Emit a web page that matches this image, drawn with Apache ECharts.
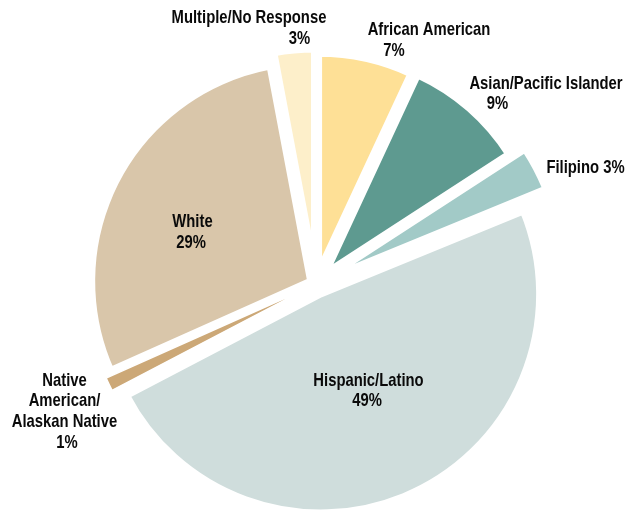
<!DOCTYPE html>
<html>
<head>
<meta charset="utf-8">
<script src="https://cdn.jsdelivr.net/npm/echarts/dist/echarts.min.js"></script>
<style>
html,body{margin:0;padding:0;background:#ffffff;}
#chart{width:626px;height:510px;}
</style>
</head>
<body>
<div id="chart"></div>
<script>
// ---- data ----
const categories = ['African American', 'Asian/Pacific Islander', 'Filipino', 'Hispanic/Latino', 'Native American/Alaskan Native', 'White', 'Multiple/No Response'];
const values = [7, 9, 3, 49, 1, 29, 3];

// ---- style / layout (not data) ----
const colors = ['#FEE096', '#5E9A90', '#A2CAC7', '#CFDDDC', '#CCA877', '#D9C6AA', '#FDEFCA'];
const explode = [12, 14, 28, 11, 11, 6, 16];
const borderW = [7, 7, 3, 7, 1.5, 7, 7];
const zOrder = [2, 2, 3, 2, 3, 2, 2];
const namePos = [[429, 29.5], [546, 84], [585.5, 168], [368.5, 380.5], [64.5, 401], [192.5, 221.5], [249, 18]];
const pctPos = [[394, 50.5], [497.5, 103.5], null, [367, 400.5], [67, 443], [191, 242.5], [299.5, 38.5]];
const wrapNames = { 'Native American/Alaskan Native': ['Native', 'American/', 'Alaskan Native'] };

const FONT = 'bold 19px "Liberation Sans", Arial, sans-serif';
const SQUEEZE = 0.78;

const chart = echarts.init(document.getElementById('chart'), null, { renderer: 'canvas' });

const series = categories.map((cat, i) => ({
  type: 'pie',
  z: zOrder[i],
  center: [316, 284],
  radius: 219,
  startAngle: 90,
  clockwise: true,
  selectedMode: 'multiple',
  selectedOffset: explode[i],
  silent: true,
  animation: false,
  emphasis: { disabled: true },
  label: { show: false },
  labelLine: { show: false },
  data: categories.map((n, j) => (j === i
    ? { name: n, value: values[j], selected: true,
        itemStyle: { color: colors[j], borderColor: '#ffffff', borderWidth: borderW[j] } }
    : { name: n, value: values[j],
        itemStyle: { color: 'rgba(0,0,0,0)', borderWidth: 0 } }))
}));

const texts = [];
categories.forEach((name, i) => {
  const pct = values[i] + '%';
  const base = { font: FONT, fill: '#0a0a0a', align: 'center', verticalAlign: 'middle', lineHeight: 20.5 };
  if (!pctPos[i]) {
    texts.push({ type: 'text', z: 100, x: namePos[i][0], y: namePos[i][1], scaleX: SQUEEZE, silent: true,
      style: Object.assign({ text: name + ' ' + pct }, base) });
    return;
  }
  const lines = wrapNames[name] || [name];
  texts.push({ type: 'text', z: 100, x: namePos[i][0], y: namePos[i][1], scaleX: SQUEEZE, silent: true,
    style: Object.assign({ text: lines.join('\n') }, base) });
  texts.push({ type: 'text', z: 100, x: pctPos[i][0], y: pctPos[i][1], scaleX: SQUEEZE, silent: true,
    style: Object.assign({ text: pct }, base) });
});

chart.setOption({
  backgroundColor: '#ffffff',
  animation: false,
  series: series,
  graphic: { elements: texts }
});
</script>
</body>
</html>
